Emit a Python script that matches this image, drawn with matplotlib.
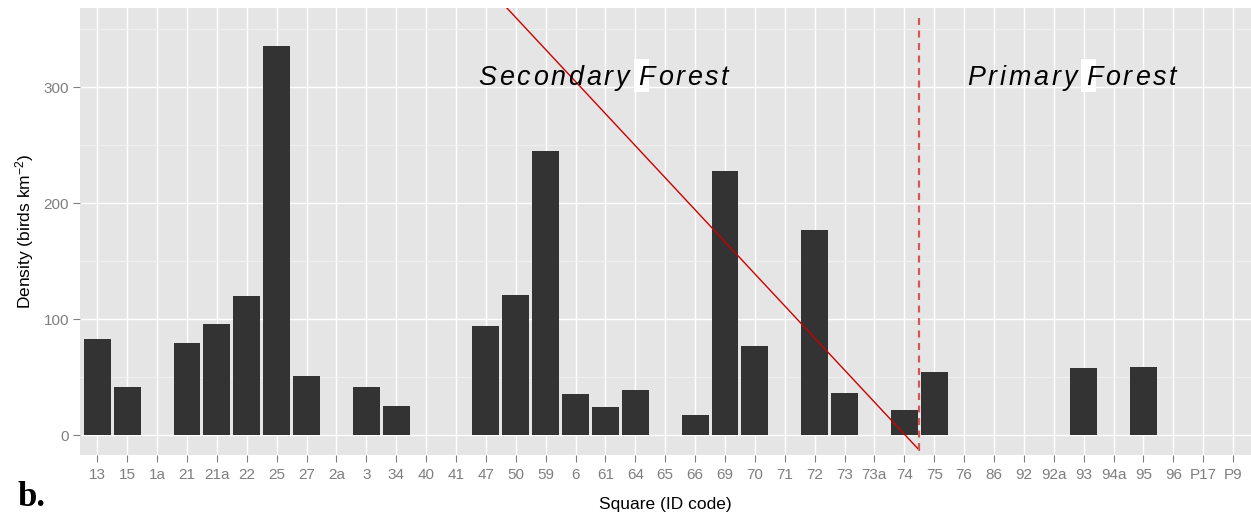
import matplotlib
matplotlib.use('Agg')
import matplotlib.pyplot as plt
from matplotlib import font_manager
from matplotlib.ft2font import FT2Font
from matplotlib.patches import Rectangle
from matplotlib.transforms import IdentityTransform

# data
squares = ['13', '15', '1a', '21', '21a', '22', '25', '27', '2a', '3', '34', '40', '41',
           '47', '50', '59', '6', '61', '64', '65', '66', '69', '70', '71', '72', '73',
           '73a', '74', '75', '76', '86', '92', '92a', '93', '94a', '95', '96', 'P17', 'P9']
density = [82.5, 41.3, 0, 79, 95.5, 119.5, 335.5, 50.7, 0, 41.3, 25, 0, 0,
           94, 120.5, 244.5, 35.3, 24, 38.7, 0, 17.2, 228, 76.7, 0, 176.5, 36,
           0, 21.5, 54.2, 0, 0, 0, 0, 57.7, 0, 58.5, 0, 0, 0]
y_ticks = [0, 100, 200, 300]
y_minor = [50, 150, 250, 350]

first_primary = '75'
trend_x = [13.2, 27.5]
trend_y = [382, -13]
boundary_y = [-13, 361]

forest_labels = ['Secondary Forest', 'Primary Forest']
forest_label_x = [16.93, 32.6]
forest_label_y = 302

plt.rcParams['font.family'] = ['Liberation Sans', 'DejaVu Sans']
plt.rcParams['mathtext.fontset'] = 'custom'
plt.rcParams['mathtext.rm'] = 'Liberation Sans'
plt.rcParams['mathtext.it'] = 'Liberation Sans:italic'
plt.rcParams['lines.scale_dashes'] = False

W, H = 1251, 521
fig = plt.figure(figsize=(W / 100, H / 100), dpi=100)
ax = fig.add_axes([80 / W, 66 / H, 1171 / W, 447 / H])
ax.set_facecolor('#E5E5E5')
for s in ax.spines.values():
    s.set_visible(False)

x = list(range(len(squares)))
ax.bar(x, density, width=0.9, color='#333333', zorder=2)

ax.set_xlim(-0.58, len(squares) - 0.4)
ax.set_ylim(-17.2, 368.1)
ax.set_xticks(x)
ax.set_xticklabels(squares)
ax.set_yticks(y_ticks)
ax.set_yticks(y_minor, minor=True)
ax.tick_params(which='major', length=5, width=0.8, color='#7F7F7F',
               labelcolor='#7F7F7F', labelsize=11)
ax.tick_params(axis='x', pad=4.5)
ax.tick_params(axis='y', pad=3)
ax.tick_params(which='minor', length=0)
ax.grid(which='major', color='white', lw=1.0, zorder=0)
ax.grid(which='minor', axis='y', color='#F2F2F2', lw=0.6, zorder=0)
ax.set_axisbelow(True)

ax.set_xlabel('Square (ID code)', fontsize=12.5, labelpad=10.5)
ax.set_ylabel('Density (birds km$^{-2}$)', fontsize=12.5, labelpad=5)

# sloping line and boundary between forest types
ax.plot(trend_x, trend_y, color='#CC0000', lw=1.0, zorder=3)
bx = squares.index(first_primary) - 0.5
ax.plot([bx, bx], boundary_y, color='#D65555', lw=1.6, dashes=(5, 4), zorder=3)

# letter-spaced italic labels
italic_path = font_manager.findfont(font_manager.FontProperties(family='Liberation Sans', style='italic'))
size = 19.4
spacing = 2.8
space_width = 4.0
font = FT2Font(italic_path)
font.set_size(size, 100)


def spaced_label(text, xd, yd):
    adv = [space_width if c == ' ' else font.load_char(ord(c)).linearHoriAdvance / 65536
           for c in text]
    total = sum(adv) + spacing * (len(text) - 1)
    cx, cy = ax.transData.transform((xd, yd))
    pos = cx - total / 2
    for c, a in zip(text, adv):
        if c == ' ':
            ax.add_patch(Rectangle((pos + 2, cy - 7), 15, 33, transform=IdentityTransform(),
                                   fc='white', ec='none', zorder=4))
        else:
            ax.text(pos, cy, c, transform=IdentityTransform(), fontsize=size,
                    style='italic', color='black', ha='left', va='baseline', zorder=5)
        pos += a + spacing


for lab, lx in zip(forest_labels, forest_label_x):
    spaced_label(lab, lx, forest_label_y)

fig.text(18 / W, 1 - 506 / H, 'b.', family='Liberation Serif', weight='bold',
         fontsize=25, va='baseline')

fig.savefig('out.png', dpi=100)
